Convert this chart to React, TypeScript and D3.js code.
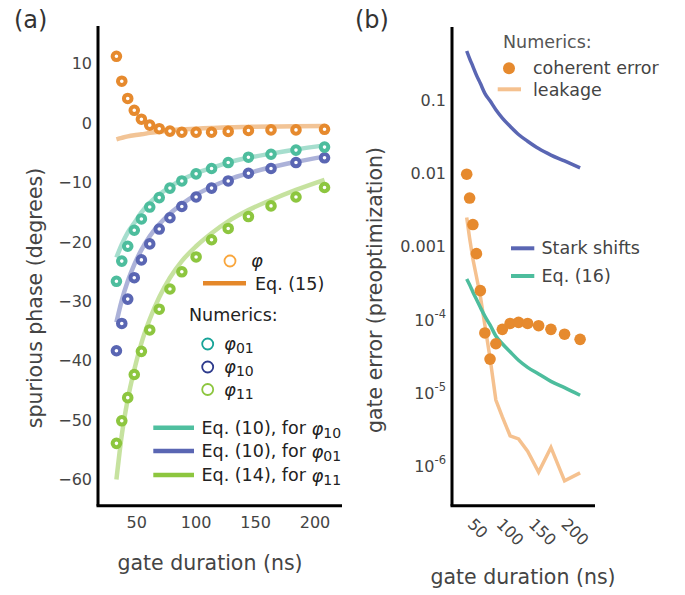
import React from 'react';
import * as d3 from 'd3';

// gate durations (ns) shared by every series
const durations = [33, 37.5, 42.5, 48, 54, 61, 69, 78, 88, 100, 113, 127, 144, 163, 184, 208];

// panel (a): spurious phases (degrees)
const phiNum = [11.3, 7.1, 4.2, 2.2, 0.7, -0.3, -0.9, -1.3, -1.5, -1.5, -1.5, -1.35, -1.2, -1.1, -1.1, -1.0];
const phi01Num = [-26.6, -23.2, -20.7, -18.0, -16.1, -14.1, -12.5, -10.9, -9.7, -8.5, -7.6, -6.6, -5.7, -5.2, -4.5, -4.0];
const phi10Num = [-38.3, -33.7, -29.6, -26.0, -23.0, -20.3, -17.8, -15.9, -14.0, -12.4, -10.9, -9.7, -8.4, -7.6, -6.6, -5.8];
const phi11Num = [-53.9, -50.1, -46.2, -42.3, -38.4, -34.8, -31.3, -27.9, -25.0, -22.5, -19.6, -17.7, -15.7, -13.9, -12.4, -10.8];
const eq15 = [-2.7, -2.45, -2.2, -2.0, -1.85, -1.6, -1.4, -1.2, -1.0, -0.9, -0.78, -0.67, -0.6, -0.53, -0.48, -0.45];
const eq10Teal = [-22.6, -20.4, -18.4, -16.8, -15.0, -13.4, -12.0, -10.7, -9.5, -8.4, -7.5, -6.6, -5.8, -5.1, -4.4, -3.7];
const eq10Blue = [-33.5, -29.8, -26.6, -23.8, -21.3, -19.0, -17.0, -15.2, -13.6, -12.0, -10.7, -9.5, -8.4, -7.4, -6.5, -5.6];
const eq14 = [-60, -52.5, -46.5, -41.5, -37, -33, -29.3, -26, -23.2, -20.7, -18.5, -16.5, -14.6, -12.9, -11.2, -9.5];

// panel (b): gate error
const coherent = [9.75e-3, 4.6e-3, 2.0e-3, 8.0e-4, 2.5e-4, 6.6e-5, 2.9e-5, 4.7e-5, 7.4e-5, 8.9e-5, 9.2e-5, 8.9e-5, 8.3e-5, 7.4e-5, 6.35e-5, 5.4e-5];
const leakage = [2.5e-3, 1.3e-3, 6.8e-4, 3.9e-4, 2.1e-4, 8.5e-5, 3.0e-5, 8.0e-6, 4.7e-6, 2.6e-6, 2.35e-6, 1.6e-6, 8.3e-7, 1.8e-6, 6.3e-7, 8.1e-7];
const stark = [0.47, 0.37, 0.29, 0.22, 0.17, 0.124, 0.098, 0.074, 0.057, 0.044, 0.034, 0.0275, 0.0218, 0.0178, 0.0148, 0.0119];
const eq16 = [3.6e-4, 3.0e-4, 2.4e-4, 1.9e-4, 1.48e-4, 1.12e-4, 8.5e-5, 6.0e-5, 4.7e-5, 3.65e-5, 2.8e-5, 2.24e-5, 1.82e-5, 1.44e-5, 1.18e-5, 9.3e-6];

const xTicks = [50, 100, 150, 200];
const yTicksA = [10, 0, -10, -20, -30, -40, -50, -60];
const yTicksB = [0.1, 0.01, 0.001, 1e-4, 1e-5, 1e-6];

const FONT = 'DejaVu Sans, Verdana, sans-serif';
const ORANGE = '#e68a2e';
const TEAL = '#4dbd9d';
const BLUE = '#5a66b3';
const GREEN = '#8dc63f';
const TICK = '#444';

const App = () => {
  // panel a
  const xA = d3.scaleLinear().domain([17.5, 222.7]).range([98, 342]);
  const yA = d3.scaleLinear().domain([-64.4, 16.4]).range([505.7, 26]);
  // panel b
  const xB = d3.scaleLinear().domain([10.3, 231]).range([452, 595]);
  const yB = d3.scaleLog().domain([2.88e-7, 1]).range([505.7, 27]);

  const lineA = (vals) => d3.line().x((d, i) => xA(durations[i])).y(d => yA(d)).curve(d3.curveMonotoneX)(vals);
  const lineBsmooth = (vals) => d3.line().x((d, i) => xB(durations[i])).y(d => yB(d)).curve(d3.curveMonotoneX)(vals);
  const lineBlin = (vals) => d3.line().x((d, i) => xB(durations[i])).y(d => yB(d))(vals);

  const rings = (vals, color, key) => vals.map((v, i) => (
    <circle key={key + i} cx={xA(durations[i])} cy={yA(v)} r={3.8} fill="white" stroke={color} strokeWidth={4} />
  ));

  const fmtA = d => (d < 0 ? '\u2212' + Math.abs(d) : String(d));

  const phiLabel = (x, y, sub, key) => (
    <text key={key} x={x} y={y} fontSize={18} fill="#222" dominantBaseline="central">
      <tspan fontStyle="italic">φ</tspan>
      {sub && <tspan fontSize={14} dy={5}>{sub}</tspan>}
    </text>
  );

  return (
    <svg width={685} height={595} style={{position: 'absolute', left: 0, top: 0, background: 'white'}} fontFamily={FONT}>
      {/* ---------- panel (a) ---------- */}
      <text x={14} y={28} fontSize={24} fill="#333">(a)</text>

      <path d={lineA(eq15)} fill="none" stroke={ORANGE} strokeOpacity={0.5} strokeWidth={4.5} />
      <path d={lineA(eq10Teal)} fill="none" stroke={TEAL} strokeOpacity={0.5} strokeWidth={4.5} />
      <path d={lineA(eq10Blue)} fill="none" stroke={BLUE} strokeOpacity={0.5} strokeWidth={4.5} />
      <path d={lineA(eq14)} fill="none" stroke={GREEN} strokeOpacity={0.5} strokeWidth={4.5} />
      {rings(phi11Num, GREEN, 'g')}
      {rings(phi10Num, BLUE, 'b')}
      {rings(phi01Num, TEAL, 't')}
      {rings(phiNum, ORANGE, 'o')}

      <line x1={98} x2={98} y1={26} y2={505.7} stroke="black" strokeWidth={3} />
      <line x1={96.5} x2={342} y1={505.7} y2={505.7} stroke="black" strokeWidth={3} />
      {yTicksA.map(t => (
        <text key={'ya' + t} x={92} y={yA(t)} fontSize={16} fill={TICK} textAnchor="end" dominantBaseline="central">{fmtA(t)}</text>
      ))}
      {xTicks.map(t => (
        <text key={'xa' + t} x={xA(t)} y={522} fontSize={16} fill={TICK} textAnchor="middle" dominantBaseline="central">{t}</text>
      ))}
      <text transform="translate(35,298) rotate(-90)" fontSize={20.5} fill={TICK} textAnchor="middle" dominantBaseline="central">spurious phase (degrees)</text>
      <text x={210} y={563} fontSize={20.5} fill={TICK} textAnchor="middle" dominantBaseline="central">gate duration (ns)</text>

      {/* legend a */}
      <circle cx={230} cy={261} r={5.5} fill="white" stroke="#f9a63c" strokeWidth={1.8} />
      {phiLabel(251, 260, null, 'lphi')}
      <line x1={203} x2={246} y1={283.3} y2={283.3} stroke="#e5882a" strokeWidth={4.5} />
      <text x={255} y={283.5} fontSize={17.5} fill="#222" dominantBaseline="central">Eq. (15)</text>
      <text x={189} y={315} fontSize={17.5} fill="#222" dominantBaseline="central">Numerics:</text>
      <circle cx={207.7} cy={344} r={5.5} fill="white" stroke="#17a398" strokeWidth={1.8} />
      <circle cx={207.7} cy={367} r={5.5} fill="white" stroke="#2d3a8c" strokeWidth={1.8} />
      <circle cx={207.7} cy={389.5} r={5.5} fill="white" stroke="#8dc63f" strokeWidth={1.8} />
      {phiLabel(224, 343, '01', 'l01')}
      {phiLabel(224, 366, '10', 'l10')}
      {phiLabel(224, 388.5, '11', 'l11')}
      {[['Eq. (10), for ', '10', '#4fbf9f', 427.7], ['Eq. (10), for ', '01', BLUE, 451], ['Eq. (14), for ', '11', GREEN, 475]].map(([t, s, c, y]) => (
        <g key={'leq' + s}>
          <line x1={153.3} x2={194} y1={y} y2={y} stroke={c} strokeWidth={4.5} />
          <text x={201.5} y={y} fontSize={17.5} fill="#222" dominantBaseline="central">
            {t}<tspan fontStyle="italic" fontSize={18}>φ</tspan><tspan fontSize={14} dy={5}>{s}</tspan>
          </text>
        </g>
      ))}

      {/* ---------- panel (b) ---------- */}
      <text x={355} y={28} fontSize={24} fill="#333">(b)</text>

      <path d={lineBsmooth(stark)} fill="none" stroke={BLUE} strokeWidth={3.5} />
      <path d={lineBlin(leakage)} fill="none" stroke="#f5c18f" strokeWidth={3.5} />
      <path d={lineBsmooth(eq16)} fill="none" stroke={TEAL} strokeWidth={3.5} />
      {coherent.map((v, i) => (
        <circle key={'c' + i} cx={xB(durations[i])} cy={yB(v)} r={5.8} fill={ORANGE} />
      ))}

      <line x1={452} x2={452} y1={27} y2={505.7} stroke="black" strokeWidth={3} />
      <line x1={450.5} x2={595} y1={505.7} y2={505.7} stroke="black" strokeWidth={3} />
      {yTicksB.map((t, i) => (
        <text key={'yb' + i} x={446} y={yB(t)} fontSize={16} fill={TICK} textAnchor="end" dominantBaseline="central">
          {t >= 0.001 ? String(t) : (
            <>
              <tspan>10</tspan>
              <tspan fontSize={11.5} dy={-6}>{'-' + Math.round(-Math.log10(t))}</tspan>
            </>
          )}
        </text>
      ))}
      {xTicks.map(t => {
        const w = String(t).length * 0.636 * 16;
        const c = 517 + (w + 12) / (2 * Math.SQRT2);
        return (
          <text key={'xb' + t} transform={`translate(${xB(t)},${c}) rotate(45)`} fontSize={16} fill={TICK} textAnchor="middle" dominantBaseline="central">{t}</text>
        );
      })}
      <text transform="translate(375,290) rotate(-90)" fontSize={20.5} fill={TICK} textAnchor="middle" dominantBaseline="central">gate error (preoptimization)</text>
      <text x={523} y={577} fontSize={20.5} fill={TICK} textAnchor="middle" dominantBaseline="central">gate duration (ns)</text>

      {/* legend b */}
      <text x={503} y={41.7} fontSize={17.5} fill="#555" dominantBaseline="central">Numerics:</text>
      <circle cx={509} cy={68.3} r={6} fill={ORANGE} />
      <text x={533} y={68.3} fontSize={17.5} fill="#444" dominantBaseline="central">coherent error</text>
      <line x1={497.7} x2={521} y1={89.3} y2={89.3} stroke="#f5c18f" strokeWidth={4} />
      <text x={533} y={89.5} fontSize={17.5} fill="#444" dominantBaseline="central">leakage</text>
      <line x1={511} x2={534.3} y1={248.3} y2={248.3} stroke={BLUE} strokeWidth={4} />
      <text x={541.5} y={248.3} fontSize={17.5} fill="#444" dominantBaseline="central">Stark shifts</text>
      <line x1={511} x2={534.3} y1={276} y2={276} stroke={TEAL} strokeWidth={4} />
      <text x={541.5} y={276} fontSize={17.5} fill="#444" dominantBaseline="central">Eq. (16)</text>
    </svg>
  );
};

export default App;
